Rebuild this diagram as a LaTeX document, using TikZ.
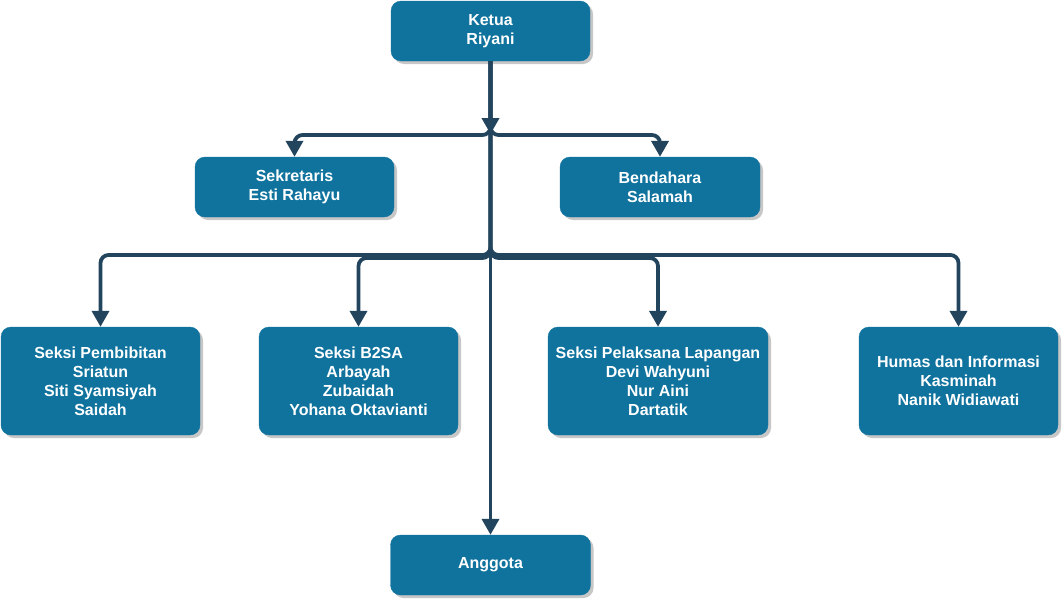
\documentclass[tikz,border=0pt]{standalone}
\usepackage{fontspec}
\setmainfont{Liberation Sans}
\usetikzlibrary{arrows.meta,shadows}
\definecolor{boxblue}{HTML}{10739E}
\definecolor{edgecol}{HTML}{23445D}
\begin{document}
\begin{tikzpicture}[x=1pt,y=-1pt,
  box/.style={fill=boxblue, draw=boxblue, rounded corners=10pt, text=white,
    font=\fontsize{16}{19}\selectfont\bfseries, align=center, inner sep=0pt,
    drop shadow={shadow xshift=3pt, shadow yshift=-3pt, fill=black, opacity=0.22}},
  edge/.style={draw=edgecol, line width=3.8pt, rounded corners=8pt,
    -{Triangle[width=17pt,length=16pt]}}]
\useasboundingbox (0,0) rectangle (1062,600);

\node[box, minimum width=199pt, minimum height=60pt] (ketua) at (490.5,31) {Ketua\\Riyani};
\node[box, minimum width=199pt, minimum height=60pt] (sek) at (294.5,187) {Sekretaris\\Esti Rahayu};
\node[box, minimum width=200pt, minimum height=60pt] (bend) at (660,187) {Bendahara\\Salamah};
\node[box, minimum width=199pt, minimum height=108pt] (pemb) at (100.5,381) {Seksi Pembibitan\\Sriatun\\Siti Syamsiyah\\Saidah};
\node[box, minimum width=199pt, minimum height=108pt] (b2sa) at (358.5,381) {Seksi B2SA\\Arbayah\\Zubaidah\\Yohana Oktavianti};
\node[box, minimum width=220pt, minimum height=108pt] (pel) at (658,381) {Seksi Pelaksana Lapangan\\Devi Wahyuni\\Nur Aini\\Dartatik};
\node[box, minimum width=199pt, minimum height=108pt] (humas) at (958.5,381) {Humas dan Informasi\\Kasminah\\Nanik Widiawati};
\node[box, minimum width=200pt, minimum height=60pt] (angg) at (490.5,565) {Anggota};

\coordinate (junc) at (490.5,134);
\coordinate (row1) at (0,135);
\coordinate (row2a) at (0,255);
\coordinate (row2b) at (0,258);

\draw[edge] (ketua.south) -- (junc);
\draw[edge] (ketua.south) -- (ketua.south |- row1) -| (sek.north);
\draw[edge] (ketua.south) -- (ketua.south |- row1) -| (bend.north);
\draw[edge] (ketua.south) -- (ketua.south |- row2a) -| (pemb.north);
\draw[edge] (ketua.south) -- (ketua.south |- row2b) -| (b2sa.north);
\draw[edge] (ketua.south) -- (ketua.south |- row2b) -| (pel.north);
\draw[edge] (ketua.south) -- (ketua.south |- row2a) -| (humas.north);
\draw[edge] (ketua.south) -- (angg.north);
\end{tikzpicture}
\end{document}
